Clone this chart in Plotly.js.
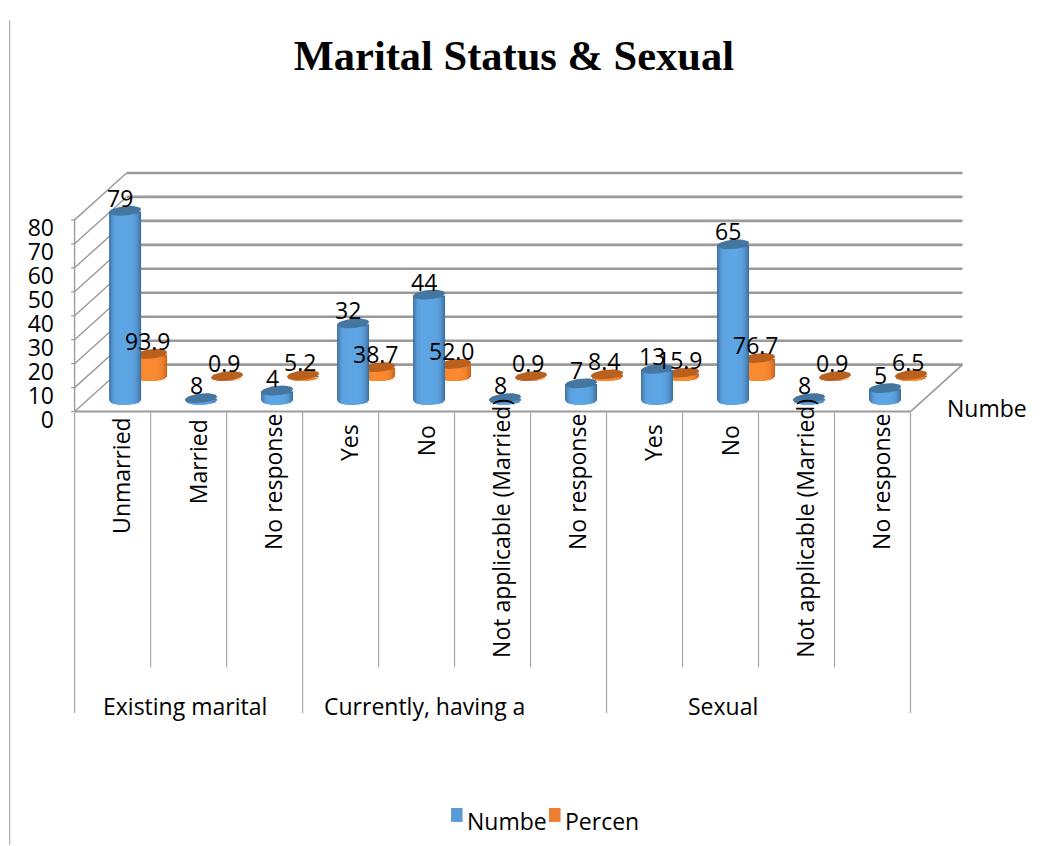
<!DOCTYPE html>
<html>
<head>
<meta charset="utf-8">
<script src="https://cdn.plot.ly/plotly-3.0.1.min.js"></script>
<style>html,body{margin:0;padding:0;background:#fff}</style>
</head>
<body>
<div id="chart" style="width:1046px;height:846px"></div>
<script>
// ---- data ----
var categories = ["Unmarried","Married","No response","Yes","No","Not applicable (Married)","No response","Yes","No","Not applicable (Married)","No response"];
var numberValues = [79,0.8,4,32,44,0.8,7,13,65,0.8,5];
var numberLabels = ["79","8","4","32","44","8","7","13","65","8","5"];
var percentValues = [93.9,0.9,5.2,38.7,52.0,0.9,8.4,15.9,76.7,0.9,6.5];
var groupNames = ["Existing marital","Currently, having a","Sexual"];
var groupTextCentres = [1.45,4.61,8.53];
var groupEdges = [0,3,7,11];
var yTicks = [0,10,20,30,40,50,60,70,80];
var seriesNames = ["Numbe","Percen"];
var seriesColors = ["#5B9BD5","#ED7D31"];

// ---- geometry of the fake 3-D box ----
var W=1046,H=846, pxPerCat=76, pxPerUnit=2.4;
var plotL=66.9, plotR=965, plotT=165, plotB=414.4;
var xRange=[-0.1,11.717], yRange=[-1,102.9];
var depthX=52/pxPerCat, depthY=47/pxPerUnit;
var blueDx=12.5/pxPerCat, blueBase=4.8;
var orangeDx=38.5/pxPerCat, orangeBase=14.7, orangeScale=10;
var rxPx=16, ryPx=4.7, tiltPx=1.5, N=14;
var idx=categories.map(function(_,i){return i;});

function hex(c){return 'rgb('+c.map(Math.round).join(',')+')';}
function mix(a,b,t){return a.map(function(v,i){return v+(b[i]-v)*t;});}
function px2paperY(p){return (plotB-p)/(plotB-plotT);}
function px2paperX(p){return (p-plotL)/(plotR-plotL);}

var traces=[];
function cylinder(name,values,dx,yaxis,unitPx,dark,light,cap){
  var xs=idx.map(function(i){return i+0.5+dx;});
  var rx=rxPx/pxPerCat;
  // nested layers, widest and darkest first, give the round shading
  for(var k=0;k<N;k++){
    var w=1-k/N;
    var centre=-0.14*(1-w);
    var shade=1-Math.pow(w,5);
    var reach=Math.min(1,Math.abs(centre)+w);
    var shift=(-ryPx*Math.sqrt(1-reach*reach)-0.5*tiltPx*w)/unitPx;
    traces.push({type:'bar',name:name,x:xs,y:values,yaxis:yaxis,
      base:values.map(function(){return shift;}),
      width:2*rx*w,offset:rx*(centre-w),
      marker:{color:hex(mix(dark,light,shade)),line:{width:0}},
      showlegend:false,hoverinfo:'skip'});
  }
  var ex=[],ey=[];
  values.forEach(function(v,i){
    for(var a=0;a<=36;a++){
      var th=a/36*2*Math.PI;
      ex.push(xs[i]+rxPx*Math.cos(th)/pxPerCat);
      ey.push(v+(ryPx*Math.sin(th)+tiltPx*Math.cos(th))/unitPx);
    }
    ex.push(null);ey.push(null);
  });
  traces.push({type:'scatter',mode:'lines',name:name,x:ex,y:ey,yaxis:yaxis,fill:'toself',
    fillcolor:cap,line:{width:0,color:cap},showlegend:false,hoverinfo:'skip'});
}
cylinder(seriesNames[1],percentValues,orangeDx,'y2',pxPerUnit/orangeScale,[200,102,32],[250,138,50],'#b9601f');
cylinder(seriesNames[0],numberValues,blueDx,'y3',pxPerUnit,[60,112,158],[94,165,228],'#44769f');

// ---- walls, floor, dividers ----
var grey='#9a9a9a', shapes=[];
function seg(x0,y0,x1,y1,w,c){shapes.push({type:'line',layer:'below',xref:'x',yref:'y',x0:x0,y0:y0,x1:x1,y1:y1,line:{color:c||grey,width:w}});}
yTicks.forEach(function(v){
  seg(depthX,v+depthY,11+depthX,v+depthY,2.6);
  seg(0,v,depthX,v+depthY,1.4);
  seg(-0.045,v,0,v,1.2);
});
seg(0,0,0,80,1.4);
seg(11,0,11+depthX,depthY,1.6);
seg(0,0,11,0,2);
for(var d=0;d<=11;d++){
  var major=groupEdges.indexOf(d)>=0;
  shapes.push({type:'line',xref:'x',yref:'paper',x0:d,x1:d,y0:px2paperY(413),y1:px2paperY(major?714:668),line:{color:'#a6a6a6',width:1.2}});
}
shapes.push({type:'line',xref:'paper',yref:'paper',x0:px2paperX(9.5),x1:px2paperX(9.5),y0:px2paperY(20),y1:px2paperY(846),line:{color:'#b0b0b0',width:1.2}});

// ---- texts ----
var font="'Open Sans', sans-serif", ann=[];
categories.forEach(function(c,i){
  ann.push({xref:'x',yref:'paper',x:i+0.5+9/pxPerCat,y:px2paperY(426-1.2*c.length),yanchor:'top',xanchor:'center',
    text:c,textangle:-90,showarrow:false,font:{family:font,size:23,color:'#000'}});
});
groupNames.forEach(function(g,i){
  ann.push({xref:'x',yref:'paper',x:groupTextCentres[i],y:px2paperY(707),xanchor:'center',yanchor:'middle',
    text:g,showarrow:false,font:{family:font,size:23,color:'#000'}});
});
numberValues.forEach(function(v,i){
  ann.push({xref:'x',yref:'y3',x:i+0.5+blueDx,y:v,yshift:13,xshift:-5,xanchor:'center',yanchor:'middle',
    text:numberLabels[i],showarrow:false,font:{family:font,size:23,color:'#000'}});
});
percentValues.forEach(function(v,i){
  ann.push({xref:'x',yref:'y2',x:i+0.5+orangeDx,y:v,yshift:13,xshift:-3,xanchor:'center',yanchor:'middle',
    text:v.toFixed(1),showarrow:false,font:{family:font,size:23,color:'#000'}});
});
ann.push({xref:'paper',yref:'paper',x:px2paperX(987),y:px2paperY(408),xanchor:'center',yanchor:'middle',
  text:'Numbe',showarrow:false,font:{family:font,size:23,color:'#000'}});

// legend key, placed tight as in the reference
var legendSwatchX=[451,549], legendTextX=[466,564];
seriesNames.forEach(function(n,i){
  shapes.push({type:'rect',xref:'paper',yref:'paper',x0:px2paperX(legendSwatchX[i]),x1:px2paperX(legendSwatchX[i]+11.5),
    y0:px2paperY(809),y1:px2paperY(823),fillcolor:seriesColors[i],line:{width:0}});
  ann.push({xref:'paper',yref:'paper',x:px2paperX(legendTextX[i]),y:px2paperY(822),xanchor:'left',yanchor:'middle',borderpad:0,
    text:n,showarrow:false,font:{family:font,size:23,color:'#000'}});
});

var hiddenY=function(r){return {overlaying:'y',range:r,visible:false,fixedrange:true};};
var layout={
  width:W,height:H,paper_bgcolor:'#fff',plot_bgcolor:'rgba(0,0,0,0)',showlegend:false,
  margin:{l:plotL,r:W-plotR,t:plotT,b:H-plotB,pad:0},
  title:{text:'Marital Status & Sexual',x:520.5/W,xref:'paper',xanchor:'center',y:1-55/H,yref:'container',yanchor:'middle',
    font:{family:"'Liberation Serif', serif",size:42.5,color:'#000',weight:'bold'}},
  barmode:'overlay',
  xaxis:{range:xRange,showgrid:false,zeroline:false,showline:false,showticklabels:false,ticks:''},
  yaxis:{range:yRange,tickvals:yTicks,ticktext:yTicks.map(String),showgrid:false,zeroline:false,showline:false,
    ticks:'',ticklabelshift:8,ticklabelstandoff:12,tickfont:{family:font,size:23,color:'#000'}},
  yaxis2:hiddenY([(yRange[0]-orangeBase)*orangeScale,(yRange[1]-orangeBase)*orangeScale]),
  yaxis3:hiddenY([yRange[0]-blueBase,yRange[1]-blueBase]),
  shapes:shapes,annotations:ann
};
Plotly.newPlot('chart',traces,layout,{displayModeBar:false,staticPlot:true});
</script>
</body>
</html>
